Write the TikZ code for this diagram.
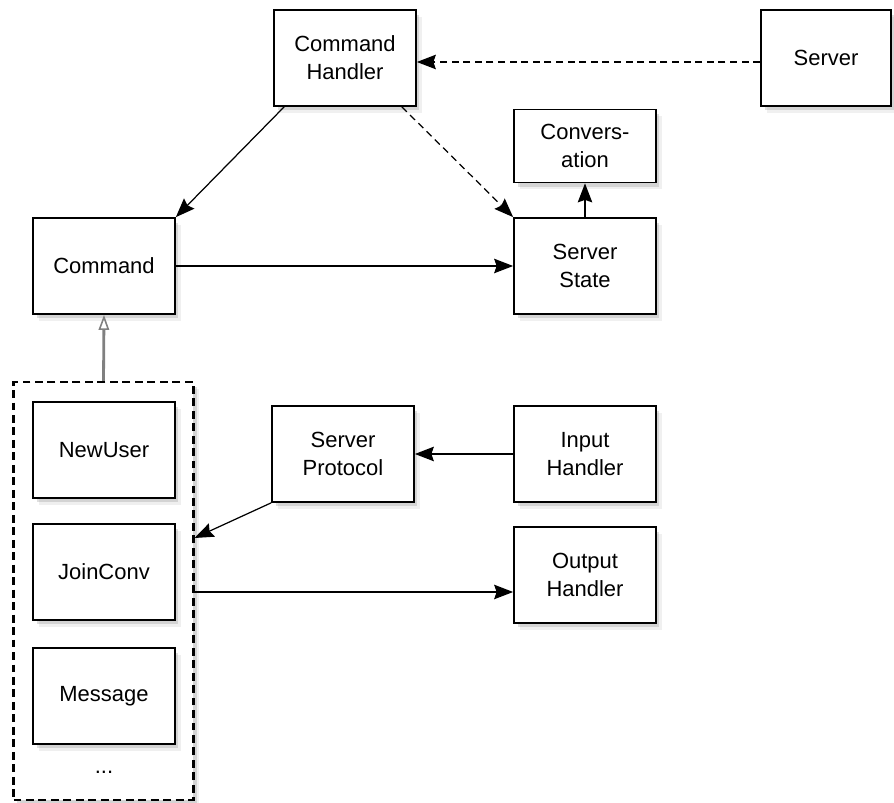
\documentclass[tikz,border=0pt]{standalone}
\usepackage{fontspec}
\setmainfont{Liberation Sans}
\usetikzlibrary{arrows.meta,shadows}

\tikzset{
  soft shadow/.style={
    drop shadow={shadow xshift=1.2mm, shadow yshift=-1.4mm, opacity=0.12},
    drop shadow={shadow xshift=0.7mm, shadow yshift=-0.9mm, opacity=0.25}},
  box/.style={draw, line width=1pt, fill=white, minimum width=2.84cm, minimum height=1.92cm,
    align=center, font=\fontsize{12.5}{16}\selectfont, soft shadow},
  link/.style={line width=0.7pt, -{Stealth[length=3.8mm,width=2.9mm,inset=0.5mm]}},
  dashlink/.style={link, dash pattern=on 4pt off 2.6pt},
}

\begin{document}
\begin{tikzpicture}[x=0.02cm,y=-0.02cm]
  \useasboundingbox (0,0) rectangle (894,803);
  \coordinate (handlerpos) at (345,58);
  \coordinate (serverpos) at (826,58);
  \coordinate (convpos) at (585,146);
  \coordinate (statepos) at (585,266);
  \coordinate (commandpos) at (104,266);
  \coordinate (protocolpos) at (343,454);
  \coordinate (inputpos) at (585,454);
  \coordinate (outputpos) at (585,575);
  % command family in a dashed frame
  \node[draw, dash pattern=on 4.5pt off 2.6pt, line width=1.2pt, fill=white, minimum width=3.6cm,
    minimum height=8.36cm, soft shadow] (family) at (103.5,591) {};
  \node[box] (newuser) at (104,450) {NewUser};
  \node[box] (joinconv) at (104,572) {JoinConv};
  \node[box] (message) at (104,696) {Message};
  \node[font=\fontsize{12.5}{16}\selectfont] (more) at (104,772) {...};
  \node[box] (handler) at (handlerpos) {Command\\Handler};
  \node[box, minimum width=2.6cm] (server) at (serverpos) {Server};
  \node[box, minimum height=1.46cm] (conv) at (convpos) {Convers-\\ation};
  \node[box] (state) at (statepos) {Server\\State};
  \node[box] (command) at (commandpos) {Command};
  \node[box] (protocol) at (protocolpos) {Server\\Protocol};
  \node[box] (input) at (inputpos) {Input\\Handler};
  \node[box] (output) at (outputpos) {Output\\Handler};
  \draw[dashlink] (server.west |- 0,62) -- (handler.east |- 0,62);
  \draw[link] (handler.south west) ++(11,0) coordinate (hsw) (hsw) -- (command.north east);
  \draw[dashlink] (handler.south east) ++(-15,0) coordinate (hse) (hse) -- (state.north west);
  \draw[link] (state) ++(0,-49) coordinate (stop) (stop) -- (conv.south);
  \draw[link] (command.east) -- (state.west);
  \draw[gray, line width=1.6pt, -{Triangle[open, length=3mm, width=2.1mm, line width=0.9pt, fill=white]}]
    (family.north) -- (command.south);
  \draw[link] (input.west) -- (protocol.east);
  \draw[link] (protocol.south west) -- (family.east |- 0,538);
  \draw[link] (family.east |- 0,592) -- (output.west |- 0,592);
\end{tikzpicture}
\end{document}
